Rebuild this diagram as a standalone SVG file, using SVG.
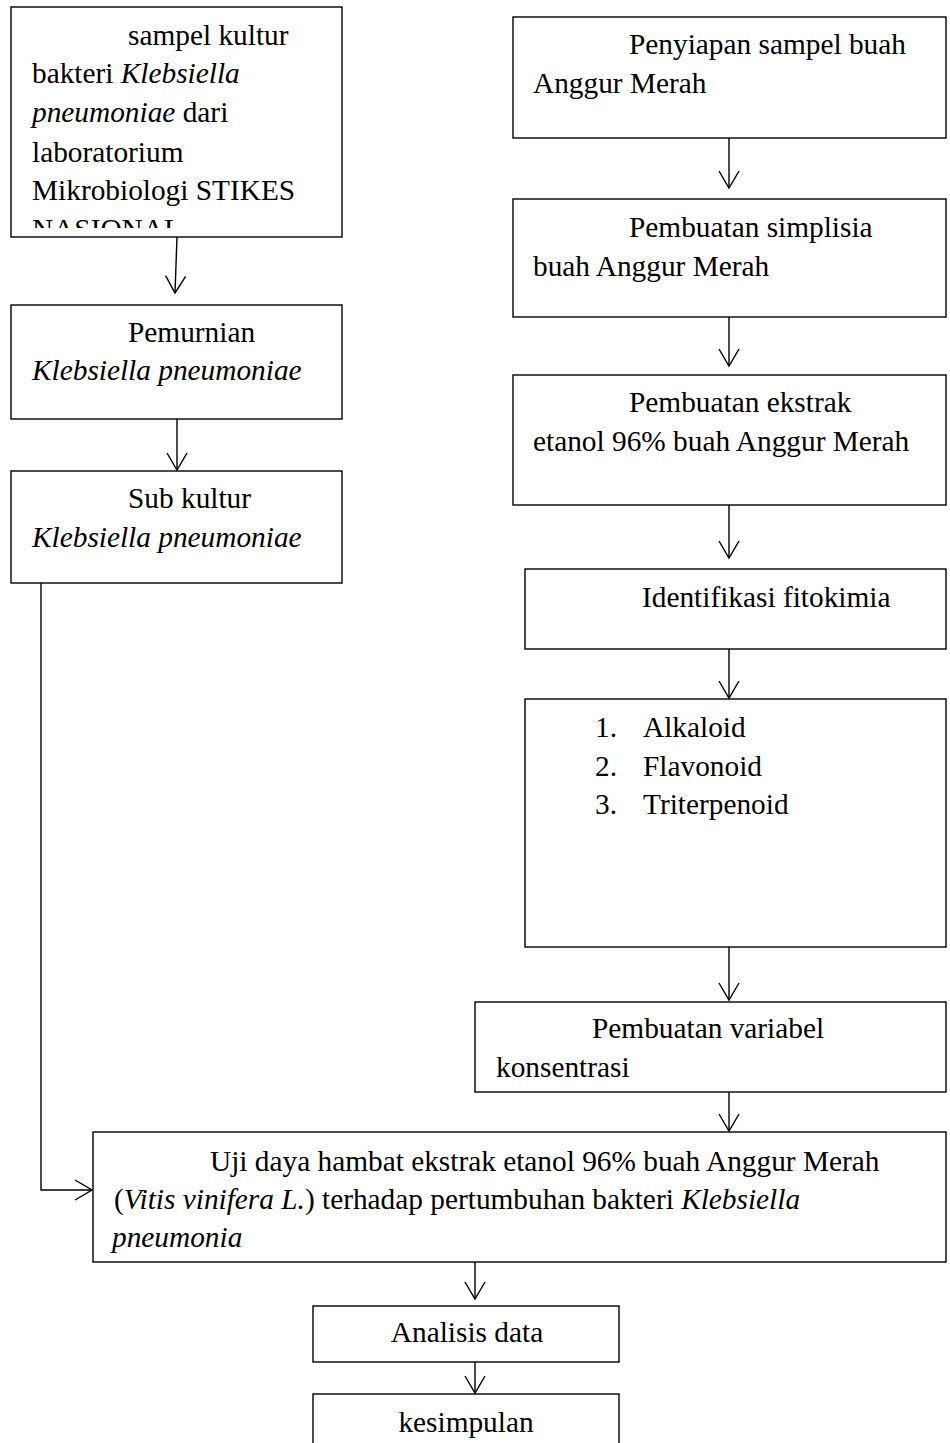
<svg xmlns="http://www.w3.org/2000/svg" width="950" height="1443" viewBox="0 0 950 1443">
<style>
.box{fill:#fff;stroke:#000;stroke-width:1.4}
.t{font-family:"Liberation Serif","Times New Roman",serif;font-size:29.33px;fill:#000}
.i{font-style:italic}
.c{stroke:#000;stroke-width:1.4;fill:none}
</style>
<defs>
<marker id="arr" markerUnits="userSpaceOnUse" markerWidth="22" markerHeight="24" viewBox="0 0 22 24" refX="19" refY="12" orient="auto">
<path d="M2,2 L19,12 L2,22" fill="none" stroke="#000" stroke-width="1.4"/>
</marker>
<clipPath id="clip1"><rect x="11" y="7" width="331" height="221"/></clipPath>
</defs>
<rect width="950" height="1443" fill="#fff"/>

<g id="connectors">
<path class="c" d="M177,237 L175,293" marker-end="url(#arr)"/>
<path class="c" d="M177,419 L177,470" marker-end="url(#arr)"/>
<path class="c" d="M41,583 L41,1190 L92,1190" marker-end="url(#arr)"/>
<path class="c" d="M729,138 L729,188" marker-end="url(#arr)"/>
<path class="c" d="M729,317 L729,366" marker-end="url(#arr)"/>
<path class="c" d="M729,505 L729,558" marker-end="url(#arr)"/>
<path class="c" d="M729,649 L729,698" marker-end="url(#arr)"/>
<path class="c" d="M729,947 L729,1000" marker-end="url(#arr)"/>
<path class="c" d="M729,1092 L729,1131" marker-end="url(#arr)"/>
<path class="c" d="M475,1262 L475,1299" marker-end="url(#arr)"/>
<path class="c" d="M475,1362 L475,1393" marker-end="url(#arr)"/>
</g>

<g id="n-sampel">
<rect class="box" x="11" y="7" width="331" height="230"/>
<g clip-path="url(#clip1)">
<text class="t" x="128" y="45">sampel kultur</text>
<text class="t" x="32" y="83">bakteri <tspan class="i">Klebsiella</tspan></text>
<text class="t" x="32" y="122"><tspan class="i">pneumoniae</tspan> dari</text>
<text class="t" x="32" y="162">laboratorium</text>
<text class="t" x="32" y="200">Mikrobiologi STIKES</text>
<text class="t" x="32" y="239">NASIONAL</text>
</g>
</g>

<g id="n-pemurnian">
<rect class="box" x="11" y="305" width="331" height="114"/>
<text class="t" x="128" y="342">Pemurnian</text>
<text class="t i" x="32" y="380">Klebsiella pneumoniae</text>
</g>

<g id="n-subkultur">
<rect class="box" x="11" y="471" width="331" height="112"/>
<text class="t" x="128" y="508">Sub kultur</text>
<text class="t i" x="32" y="547">Klebsiella pneumoniae</text>
</g>

<g id="n-penyiapan">
<rect class="box" x="513" y="17" width="433" height="121"/>
<text class="t" x="629" y="54">Penyiapan sampel buah</text>
<text class="t" x="533" y="93">Anggur Merah</text>
</g>

<g id="n-simplisia">
<rect class="box" x="513" y="199" width="433" height="118"/>
<text class="t" x="629" y="237">Pembuatan simplisia</text>
<text class="t" x="533" y="276">buah Anggur Merah</text>
</g>

<g id="n-ekstrak">
<rect class="box" x="513" y="375" width="433" height="130"/>
<text class="t" x="629" y="412">Pembuatan ekstrak</text>
<text class="t" x="533" y="451">etanol 96% buah Anggur Merah</text>
</g>

<g id="n-identifikasi">
<rect class="box" x="525" y="569" width="421" height="80"/>
<text class="t" x="642" y="607">Identifikasi fitokimia</text>
</g>

<g id="n-list">
<rect class="box" x="525" y="699" width="421" height="248"/>
<text class="t" x="595" y="737">1.</text><text class="t" x="643" y="737">Alkaloid</text>
<text class="t" x="595" y="776">2.</text><text class="t" x="643" y="776">Flavonoid</text>
<text class="t" x="595" y="814">3.</text><text class="t" x="643" y="814">Triterpenoid</text>
</g>

<g id="n-variabel">
<rect class="box" x="475" y="1002" width="471" height="90"/>
<text class="t" x="592" y="1038">Pembuatan variabel</text>
<text class="t" x="496" y="1077">konsentrasi</text>
</g>

<g id="n-uji">
<rect class="box" x="93" y="1132" width="853" height="130"/>
<text class="t" x="210" y="1171">Uji daya hambat ekstrak etanol 96% buah Anggur Merah</text>
<text class="t" x="114" y="1209">(<tspan class="i">Vitis vinifera L.</tspan>) terhadap pertumbuhan bakteri <tspan class="i">Klebsiella</tspan></text>
<text class="t i" x="112" y="1247">pneumonia</text>
</g>

<g id="n-analisis">
<rect class="box" x="313" y="1306" width="306" height="56"/>
<text class="t" x="467" y="1342" text-anchor="middle">Analisis data</text>
</g>

<g id="n-kesimpulan">
<rect class="box" x="313" y="1394" width="306" height="70"/>
<text class="t" x="466" y="1432" text-anchor="middle">kesimpulan</text>
</g>
</svg>
